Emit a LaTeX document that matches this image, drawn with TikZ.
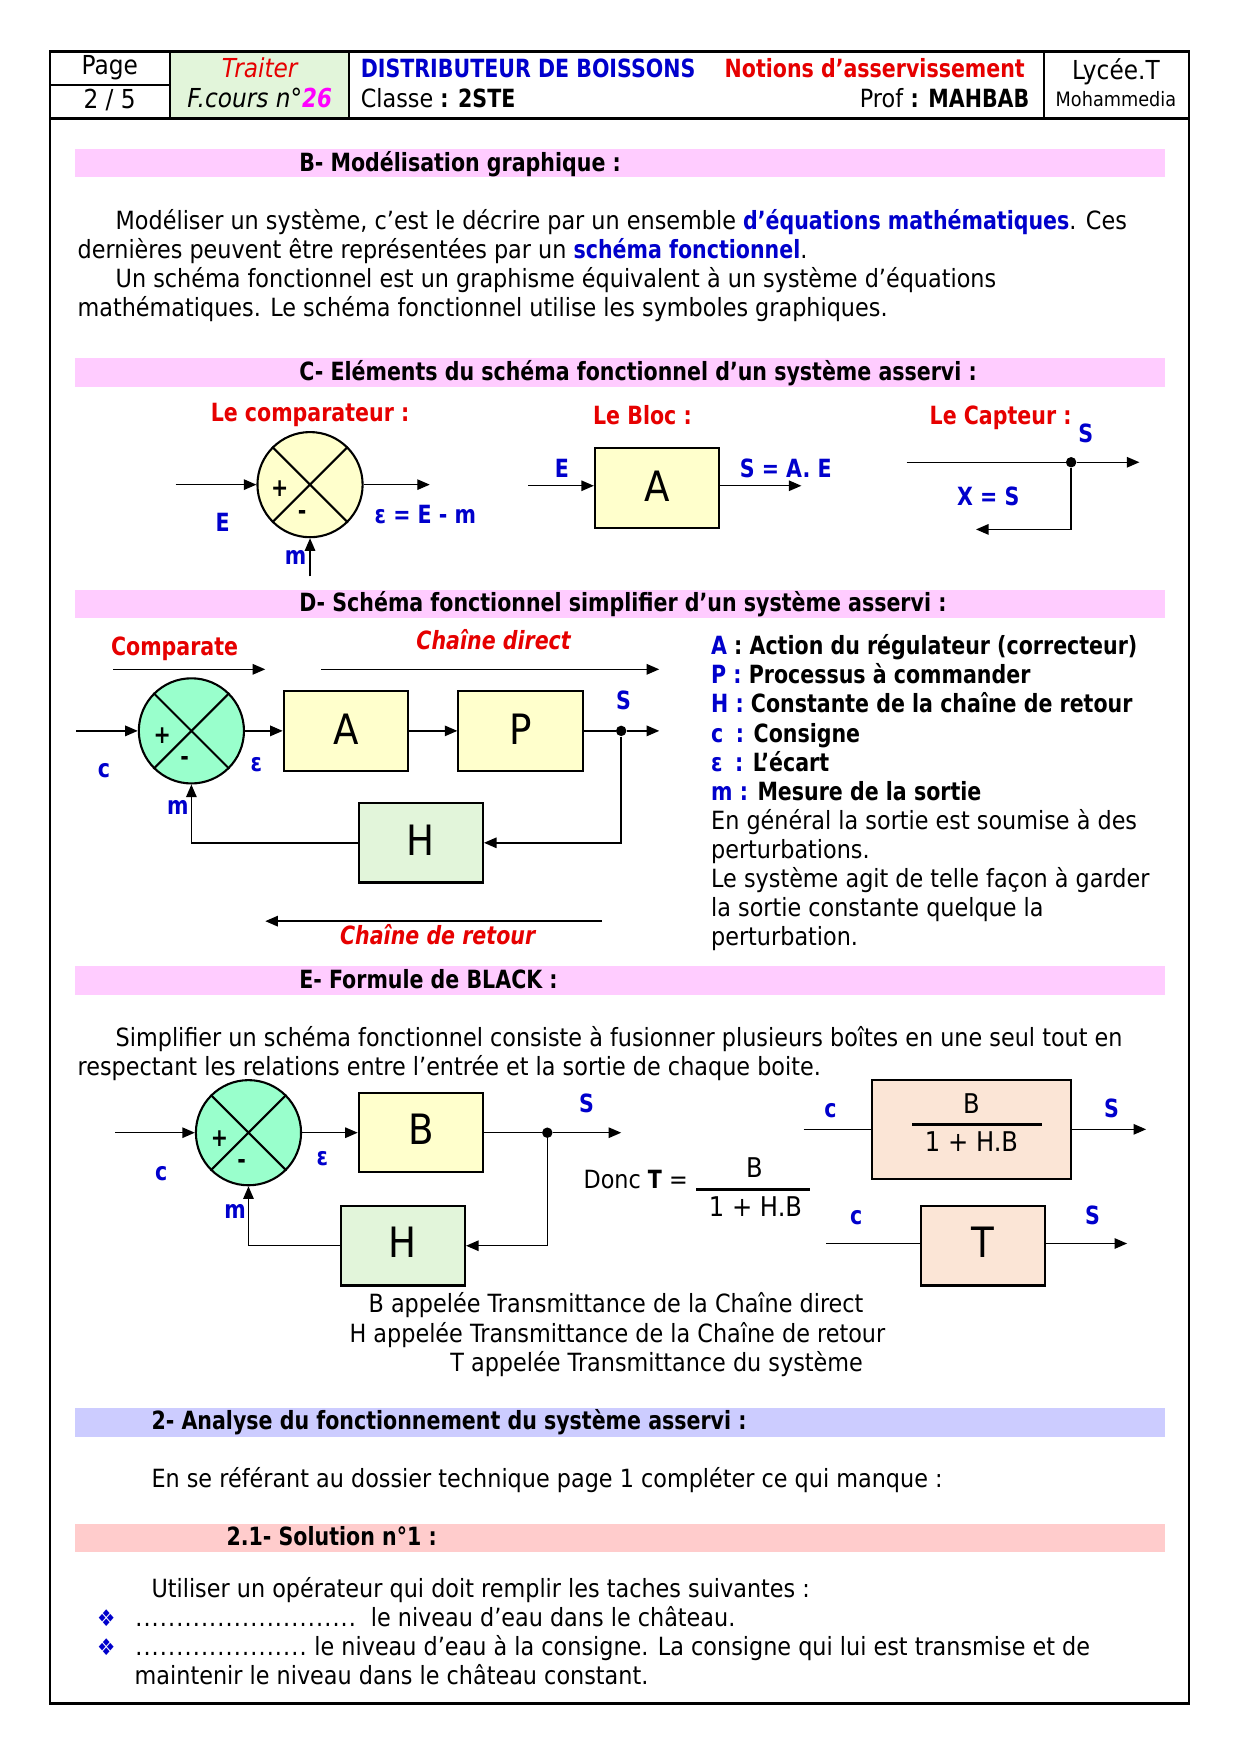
\documentclass[tikz,border=0pt]{standalone}
\usepackage{fontspec}
\setmainfont{DejaVu Sans}[FakeStretch=0.89,BoldFeatures={FakeStretch=0.82},BoldItalicFeatures={FakeStretch=0.82}]
\usetikzlibrary{arrows.meta}
\definecolor{bandpink}{HTML}{FFCCFF}
\definecolor{bandblue}{HTML}{CCCCFF}
\definecolor{bandred}{HTML}{FFCCCC}
\definecolor{tblue}{HTML}{0000CC}
\definecolor{tred}{HTML}{E60000}
\definecolor{tmag}{HTML}{FF00FF}
\definecolor{yel}{HTML}{FFFFCC}
\definecolor{grn}{HTML}{99FFCC}
\definecolor{hgrn}{HTML}{E2F5DA}
\definecolor{peach}{HTML}{FBE5D6}
\newcommand{\mydots}[1]{\hbox to #1\dimexpr 3.93pt\relax{\xleaders\hbox to 3.93pt{\hss.\hss}\hfill}}
\begin{document}
\begin{tikzpicture}[x=0.5354pt,y=-0.5354pt,
  t/.style={anchor=base west,inner sep=0pt,font=\fontsize{12}{14}\selectfont},
  tc/.style={anchor=base,inner sep=0pt,font=\fontsize{12}{14}\selectfont},
  tr/.style={anchor=base east,inner sep=0pt,font=\fontsize{12}{14}\selectfont},
  lst/.style={anchor=base west,inner sep=0pt,font=\fontsize{12}{14}\selectfont},
  lbl/.style={tc,text=tblue,font=\fontsize{12}{14}\selectfont\bfseries},
  ttl/.style={t,font=\fontsize{12}{14}\selectfont\bfseries},
  rtl/.style={tc,text=tred,font=\fontsize{12}{14}\selectfont\bfseries},
  sgn/.style={anchor=center,inner sep=0pt,font=\fontsize{12}{14}\selectfont\bfseries},
  arr/.style={-{Triangle[length=6pt,width=5pt]},line width=0.7pt},
  ln/.style={line width=0.7pt},
  blk/.style={draw,line width=1pt,minimum width=59.4pt,minimum height=38pt,inner sep=0pt,font=\fontsize{20}{24}\selectfont},
  cmpst/.style={draw,circle,line width=1pt,minimum size=50.3pt,inner sep=0pt},
  dot/.style={circle,fill=black,inner sep=0pt,minimum size=5pt}
]
\useasboundingbox (0,0) rectangle (1112,1568);
\fill[white] (0,0) rectangle (1112,1568);

% ---------- header ----------
\fill[hgrn] (152,46) rectangle (312,106);
\draw[line width=1pt] (45,46) -- (1062,46) -- (1062,1522) -- (45,1522) -- cycle;
\draw[line width=1.6pt] (45,106) -- (1062,106);
\draw[line width=1pt] (152,46) -- (152,106) (312,46) -- (312,106) (933,46) -- (933,106) (45,76) -- (152,76);
\node[tc,font=\fontsize{12.5}{14}\selectfont] (hpage) at (98,67) {Page};
\node[tc,font=\fontsize{12.5}{14}\selectfont] (hnum) at (98,97) {2 / 5};
\node[tc,text=tred,font=\fontsize{12.5}{14}\selectfont\itshape] (htr) at (232,69) {Traiter};
\node[tc,font=\fontsize{12.5}{14}\selectfont\itshape] (hfc) at (232,96) {F.cours n°\textcolor{tmag}{\bfseries 26}};
\node[t,text=tblue,font=\fontsize{12}{14}\selectfont\bfseries] (hdist) at (322,69) {DISTRIBUTEUR DE BOISSONS};
\node[t] (hcl) at (322,96) {Classe \textbf{: 2STE}};
\node[tr,text=tred,font=\fontsize{12}{14}\selectfont\bfseries] (hnot) at (916,69) {Notions d’asservissement};
\node[tr] (hprof) at (920,96) {Prof \textbf{: MAHBAB}};
\node[tc,font=\fontsize{12.5}{14}\selectfont] (hly) at (997,71) {Lycée.T};
\node[tc,font=\fontsize{9.5}{11}\selectfont] (hmo) at (997,95) {Mohammedia};

% ---------- B ----------
\fill[bandpink] (67,133) rectangle (1041,158);
\node[ttl] (tB) at (267,153) {B- Modélisation graphique :};
\node[t] (pb1) at (103,205) {Modéliser un système, c’est le décrire par un ensemble \textcolor{tblue}{\bfseries d’équations mathématiques}. Ces};
\node[t] (pb2) at (69,231) {dernières peuvent être représentées par un \textcolor{tblue}{\bfseries schéma fonctionnel}.};
\node[t] (pb3) at (103,257) {Un schéma fonctionnel est un graphisme équivalent à un système d’équations};
\node[t] (pb4) at (69,283) {mathématiques. Le schéma fonctionnel utilise les symboles graphiques.};

% ---------- C ----------
\fill[bandpink] (67,320) rectangle (1041,346);
\node[ttl] (tC) at (267,340) {C- Eléments du schéma fonctionnel d’un système asservi :};

% comparateur
\node[rtl] (lcmp) at (277,377) {Le comparateur :};
\node[cmpst,fill=yel] (cmp) at (277,433) {};
\draw[line width=1pt] (cmp.45) -- (cmp.225) (cmp.135) -- (cmp.315);
\coordinate (cmpin) at (157,433);
\coordinate (cmpout) at (384,433);
\coordinate (cmpm) at (277,515);
\draw[arr] (cmpin) -- (cmp);
\draw[arr] (cmp) -- (cmpout);
\draw[arr] (cmpm) -- (cmp.south);
\node[sgn] (cp) at (250,437) {+};
\node[sgn] (cm) at (270,460) {-};
\node[lbl] (cE) at (199,475) {E};
\node[lbl] (ceq) at (380,468) {ε = E - m};
\node[lbl] (cmm) at (264,504) {m};

% bloc
\node[rtl] (lbloc) at (574,379) {Le Bloc :};
\node[blk,fill=yel] (blocA) at (587,436) {\raisebox{2pt}{A}};
\coordinate (blin) at (472,434);
\coordinate (blout) at (716,434);
\draw[arr] (blin) -- (blin -| blocA.west);
\draw[arr] (blout -| blocA.east) -- (blout);
\node[lbl] (bE) at (502,427) {E};
\node[lbl] (bS) at (702,427) {S = A. E};

% capteur
\node[rtl] (lcap) at (894,379) {Le Capteur :};
\node[lbl] (capS) at (970,395) {S};
\coordinate (capin) at (810,413);
\node[dot] (capdot) at (957,413) {};
\coordinate (capout) at (1018,413);
\coordinate (capret) at (872,473);
\draw[ln] (capin) -- (capdot);
\draw[arr] (capdot) -- (capout);
\draw[arr] (capdot) |- (capret);
\node[lbl] (capX) at (883,452) {X = S};

% ---------- D ----------
\fill[bandpink] (67,527) rectangle (1041,552);
\node[ttl] (tD) at (267,546) {D- Schéma fonctionnel simplifier d’un système asservi :};

\node[rtl] (dcomp) at (156,586) {Comparate};
\coordinate (ca1) at (101,598);
\coordinate (ca2) at (237,598);
\draw[arr] (ca1) -- (ca2);
\node[rtl,font=\fontsize{12}{14}\selectfont\bfseries\itshape] (dchd) at (441,580) {Chaîne direct};
\coordinate (cd1) at (287,598);
\coordinate (cd2) at (589,598);
\draw[arr] (cd1) -- (cd2);

\node[cmpst,fill=grn] (dcmp) at (171,653) {};
\draw[line width=1pt] (dcmp.45) -- (dcmp.225) (dcmp.135) -- (dcmp.315);
\node[blk,fill=yel] (dA) at (309,653) {\raisebox{2pt}{A}};
\node[blk,fill=yel] (dP) at (465,653) {\raisebox{2pt}{P}};
\node[blk,fill=hgrn] (dH) at (376,753) {\raisebox{2pt}{H}};
\node[dot] (dS) at (555,653) {};
\coordinate (din) at (68,653);
\coordinate (dout) at (589,653);
\draw[arr] (din) -- (dcmp);
\draw[arr] (dcmp) -- (dA);
\draw[arr] (dA) -- (dP);
\draw[ln] (dP) -- (dS);
\draw[arr] (dS) -- (dout);
\draw[arr] (dS) |- (dH.east);
\draw[arr] (dH.west) -| (dcmp.south);
\node[sgn] (dp) at (145,657) {+};
\node[sgn] (dm) at (165,680) {-};
\node[lbl] (dc) at (93,695) {c};
\node[lbl] (de) at (229,689) {ε};
\node[lbl] (dmm) at (159,728) {m};
\node[lbl] (dSl) at (557,634) {S};
\coordinate (cr1) at (538,823);
\coordinate (cr2) at (237,823);
\draw[arr] (cr1) -- (cr2);
\node[rtl,font=\fontsize{12}{14}\selectfont\bfseries\itshape] (dchr) at (391,844) {Chaîne de retour};

% legend
\node[lst] (l1) at (635,585) {\textbf{\textcolor{tblue}{A} : Action du régulateur (correcteur)}};
\node[lst] (l2) at (635,611) {\textbf{\textcolor{tblue}{P :} Processus à commander}};
\node[lst] (l3) at (635,637) {\textbf{\textcolor{tblue}{H :} Constante de la chaîne de retour}};
\node[lst] (l4) at (635,663) {\textbf{\textcolor{tblue}{c\,\,\,:} Consigne}};
\node[lst] (l5) at (635,689) {\textbf{\textcolor{tblue}{ε\,\,\,:} L’écart}};
\node[lst] (l6) at (635,715) {\textbf{\textcolor{tblue}{m :} Mesure de la sortie}};
\node[lst] (l7) at (635,741) {En général la sortie est soumise à des};
\node[lst] (l8) at (635,767) {perturbations.};
\node[lst] (l9) at (635,793) {Le système agit de telle façon à garder};
\node[lst] (l10) at (635,819) {la sortie constante quelque la};
\node[lst] (l11) at (635,845) {perturbation.};

% ---------- E ----------
\fill[bandpink] (67,863) rectangle (1041,889);
\node[ttl] (tE) at (267,883) {E- Formule de BLACK :};
\node[t] (pe1) at (103,935) {Simplifier un schéma fonctionnel consiste à fusionner plusieurs boîtes en une seul tout en};
\node[t] (pe2) at (69,961) {respectant les relations entre l’entrée et la sortie de chaque boite.};

\node[cmpst,fill=grn] (ecmp) at (222,1012) {};
\draw[line width=1pt] (ecmp.45) -- (ecmp.225) (ecmp.135) -- (ecmp.315);
\node[blk,fill=yel] (eB) at (376,1012) {\raisebox{3pt}{B}};
\node[blk,fill=hgrn] (eH) at (360,1113) {\raisebox{3pt}{H}};
\node[dot] (eS) at (489,1012) {};
\coordinate (ein) at (103,1012);
\coordinate (eout) at (555,1012);
\draw[arr] (ein) -- (ecmp);
\draw[arr] (ecmp) -- (eB);
\draw[ln] (eB) -- (eS);
\draw[arr] (eS) -- (eout);
\draw[arr] (eS) |- (eH.east);
\draw[arr] (eH.west) -| (ecmp.south);
\node[sgn] (ep) at (196,1017) {+};
\node[sgn] (em) at (216,1040) {-};
\node[lbl] (ec) at (144,1055) {c};
\node[lbl] (ee) at (288,1041) {ε};
\node[lbl] (emm) at (210,1089) {m};
\node[lbl] (eSl) at (524,994) {S};

\node[t] (donc) at (521,1062) {Donc \textbf{T} =};
\node[tc,font=\fontsize{13}{15}\selectfont] (fnum) at (674,1052) {B};
\draw[line width=1.4pt] (622,1063) -- (724,1063);
\node[tc,font=\fontsize{13}{15}\selectfont] (fden) at (675,1087) {1 + H.B};

\node[draw,line width=1pt,fill=peach,minimum width=95.3pt,minimum height=47.1pt,inner sep=0pt] (eBig) at (868,1009) {};
\node[tc,font=\fontsize{13}{15}\selectfont] (gnum) at (868,995) {B};
\draw[line width=1.4pt] (815,1005) -- (931,1005);
\node[tc,font=\fontsize{13}{15}\selectfont] (gden) at (868,1029) {1 + H.B};
\coordinate (bin) at (718,1009);
\coordinate (bout) at (1024,1009);
\draw[ln] (bin) -- (eBig);
\draw[arr] (eBig) -- (bout);
\node[lbl] (gc) at (742,998) {c};
\node[lbl] (gS) at (993,998) {S};

\node[blk,fill=peach] (eT) at (878,1113) {\raisebox{3pt}{T}};
\coordinate (tin) at (738,1111);
\coordinate (tout) at (1007,1111);
\draw[ln] (tin) -- (tin -| eT.west);
\draw[arr] (tout -| eT.east) -- (tout);
\node[lbl] (tc1) at (765,1094) {c};
\node[lbl] (tS1) at (976,1094) {S};

\node[t] (cap1) at (329,1173) {B appelée Transmittance de la Chaîne direct};
\node[t] (cap2) at (312,1199) {H appelée Transmittance de la Chaîne de retour};
\node[t] (cap3) at (402,1225) {T appelée Transmittance du système};

% ---------- 2 ----------
\fill[bandblue] (67,1258) rectangle (1041,1284);
\node[ttl] (t2) at (135,1277) {2- Analyse du fonctionnement du système asservi :};
\node[t] (p21) at (135,1329) {En se référant au dossier technique page 1 compléter ce qui manque :};
\fill[bandred] (67,1362) rectangle (1041,1387);
\node[ttl] (t21) at (202,1381) {2.1- Solution n°1 :};
\node[t] (p22) at (135,1427) {Utiliser un opérateur qui doit remplir les taches suivantes :};
\node[tc,text=tblue,font=\fontsize{11}{12}\selectfont] (bul1) at (95,1453) {❖};
\node[tc,text=tblue,font=\fontsize{11}{12}\selectfont] (bul2) at (95,1479) {❖};
\node[t] (p23) at (120,1453) {\mydots{27}~~le niveau d’eau dans le château.};
\node[t] (p24) at (120,1479) {\mydots{21} le niveau d’eau à la consigne. La consigne qui lui est transmise et de};
\node[t] (p25) at (120,1505) {maintenir le niveau dans le château constant.};
\end{tikzpicture}
\end{document}
